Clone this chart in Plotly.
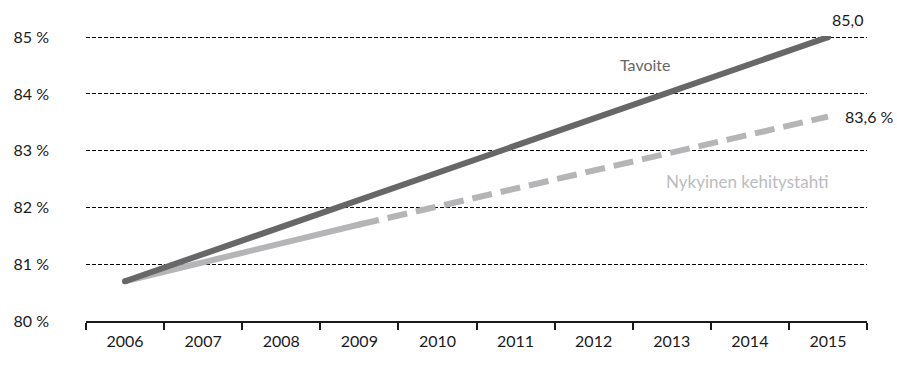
import plotly.graph_objects as go

years = ["2006", "2007", "2008", "2009", "2010", "2011", "2012", "2013", "2014", "2015"]
target_years = ["2006", "2015"]
target_values = [80.7, 85.0]
actual_years = ["2006", "2009"]
actual_values = [80.7, 81.7]
trend_years = ["2009", "2015"]
trend_values = [81.7, 83.6]
ytick_vals = [80, 81, 82, 83, 84, 85]
ytick_text = ["80 %", "81 %", "82 %", "83 %", "84 %", "85 %"]

FONT = "Lato, 'Open Sans', sans-serif"
DARK = "#676767"
LIGHT = "#b5b5b7"
FS = 16

fig = go.Figure()
fig.add_trace(go.Scatter(x=actual_years, y=actual_values, mode="lines+markers",
                         line=dict(color=LIGHT, width=6),
                         marker=dict(size=6, color=LIGHT), hoverinfo="skip"))
fig.add_trace(go.Scatter(x=trend_years, y=trend_values, mode="lines",
                         line=dict(color=LIGHT, width=6, dash="20px,9px"), hoverinfo="skip"))
fig.add_trace(go.Scatter(x=target_years, y=target_values, mode="lines+markers",
                         line=dict(color=DARK, width=6),
                         marker=dict(size=6, color=DARK), hoverinfo="skip"))

fig.update_layout(
    width=897, height=370,
    margin=dict(l=86, r=30, t=36, b=49),
    paper_bgcolor="white", plot_bgcolor="white",
    showlegend=False,
    font=dict(family=FONT, size=FS, color="#1a1a1a"),
    xaxis=dict(type="category", categoryorder="array", categoryarray=years,
               range=[-0.5, 9.5], tickson="boundaries", ticks="outside",
               ticklen=7, tickwidth=2, tickcolor="#1a1a1a",
               showline=True, linecolor="#1a1a1a", linewidth=2,
               showgrid=False, zeroline=False, ticklabelstandoff=5,
               tickfont=dict(size=FS, color="#1a1a1a")),
    yaxis=dict(range=[80, 85.02], tickvals=ytick_vals, ticktext=ytick_text,
               showgrid=True, gridcolor="#000000", gridwidth=1.2, griddash="4px,2px",
               showline=False, zeroline=False, ticks="",
               ticklabelstandoff=36, tickfont=dict(size=FS, color="#1a1a1a")),
)

fig.add_annotation(x=9, y=85.0, text="85,0", showarrow=False, xref="x", yref="y",
                   xanchor="left", yanchor="bottom", xshift=2, yshift=6,
                   font=dict(size=FS, color="#1a1a1a"))
fig.add_annotation(x=9, y=83.6, text="83,6 %", showarrow=False, xref="x", yref="y",
                   xanchor="left", yanchor="middle", xshift=15,
                   font=dict(size=FS, color="#1a1a1a"))
fig.add_annotation(x=6.67, y=84.51, text="Tavoite", showarrow=False, xref="x", yref="y",
                   xanchor="center", yanchor="middle",
                   font=dict(size=FS, color=DARK))
fig.add_annotation(x=7.96, y=82.45, text="Nykyinen kehitystahti", showarrow=False,
                   xref="x", yref="y", xanchor="center", yanchor="middle",
                   font=dict(size=17, color="#bcbcbe"))

fig.write_html("out.html")
